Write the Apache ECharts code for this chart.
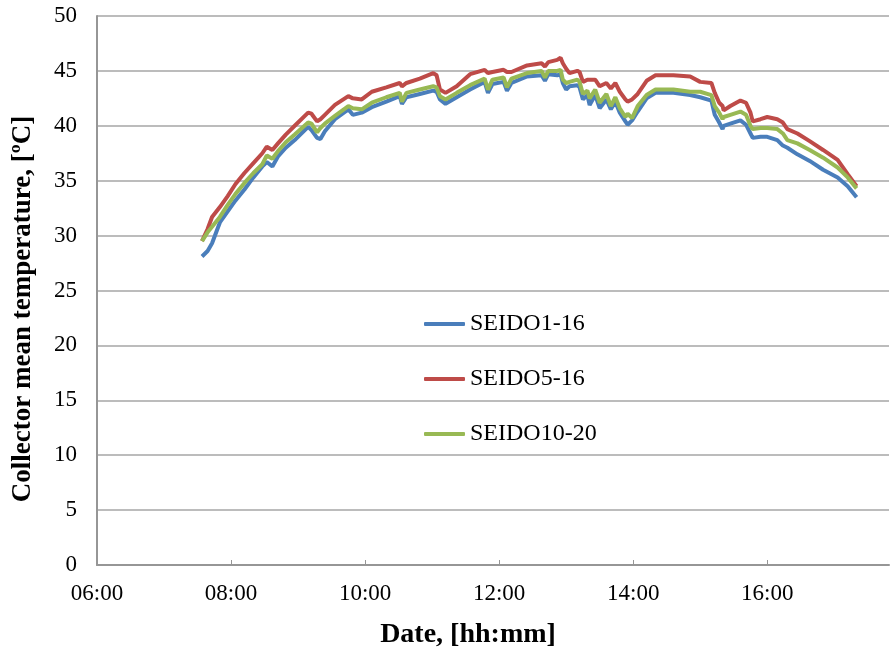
<!DOCTYPE html>
<html>
<head>
<meta charset="utf-8">
<script src="https://cdn.jsdelivr.net/npm/echarts@6/dist/echarts.min.js"></script>
<style>
  html, body { margin: 0; padding: 0; background: #fff; }
  #chart { width: 891px; height: 654px; }
</style>
</head>
<body>
<div id="chart"></div>
<script>
// sample times (hh:mm)
const times = [
  '07:34', '07:39', '07:43', '07:50', '07:57', '08:04', '08:12', '08:20', '08:28', '08:32',
  '08:37', '08:42', '08:49', '08:57', '09:09', '09:12', '09:17', '09:20', '09:24', '09:33',
  '09:45', '09:49', '09:57', '10:06', '10:19', '10:31', '10:33', '10:37', '10:49', '11:01',
  '11:04', '11:07', '11:12', '11:22', '11:34', '11:47', '11:50', '11:54', '12:04', '12:07',
  '12:11', '12:25', '12:38', '12:41', '12:44', '12:52', '12:55', '12:57', '13:00', '13:03',
  '13:10', '13:12', '13:15', '13:19', '13:21', '13:26', '13:30', '13:36', '13:40', '13:44',
  '13:48', '13:53', '13:55', '13:59', '14:04', '14:12', '14:20', '14:36', '14:51', '15:00',
  '15:10', '15:13', '15:17', '15:20', '15:21', '15:27', '15:36', '15:41', '15:45', '15:47',
  '15:54', '16:00', '16:09', '16:14', '16:18', '16:27', '16:38', '16:50', '17:03', '17:12',
  '17:20'
];

const seido1_16 = [
  28.1, 28.6, 29.3, 31.2, 32.2, 33.2, 34.2, 35.3, 36.3, 36.7,
  36.3, 37.2, 38.0, 38.7, 39.9, 39.6, 38.9, 38.8, 39.5, 40.6,
  41.5, 41.0, 41.2, 41.7, 42.2, 42.7, 42.0, 42.6, 42.9, 43.2,
  43.1, 42.4, 42.0, 42.6, 43.3, 44.0, 43.0, 43.8, 44.0, 43.2,
  43.9, 44.5, 44.6, 44.1, 44.7, 44.6, 44.7, 43.9, 43.3, 43.6,
  43.7, 43.5, 42.4, 42.8, 41.9, 42.8, 41.6, 42.4, 41.5, 42.2,
  41.2, 40.4, 40.1, 40.5, 41.3, 42.5, 43.0, 43.0, 42.8, 42.6,
  42.3, 41.0, 40.3, 39.7, 40.0, 40.2, 40.5, 40.1, 39.3, 38.9,
  39.0, 39.0, 38.7, 38.2, 38.0, 37.4, 36.8, 36.0, 35.3, 34.5,
  33.5
];

const seido5_16 = [
  29.5, 30.6, 31.7, 32.6, 33.6, 34.7, 35.7, 36.6, 37.5, 38.1,
  37.8, 38.4, 39.2, 40.0, 41.2, 41.1, 40.4, 40.6, 41.0, 41.9,
  42.7, 42.5, 42.4, 43.1, 43.5, 43.9, 43.6, 43.9, 44.3, 44.8,
  44.6, 43.3, 43.0, 43.6, 44.7, 45.1, 44.8, 44.9, 45.1, 44.9,
  44.9, 45.5, 45.7, 45.4, 45.8, 46.0, 46.2, 45.7, 45.2, 44.8,
  45.0, 44.9, 44.0, 44.2, 44.2, 44.2, 43.6, 43.9, 43.4, 43.9,
  43.1, 42.4, 42.2, 42.4, 42.9, 44.1, 44.6, 44.6, 44.5, 44.0,
  43.9, 43.0, 42.1, 41.8, 41.4, 41.8, 42.3, 42.1, 41.2, 40.4,
  40.6, 40.8, 40.6, 40.3, 39.7, 39.3, 38.6, 37.8, 36.9, 35.6,
  34.5
];

const seido10_20 = [
  29.5, 30.3, 30.8, 31.7, 32.8, 33.8, 34.8, 35.7, 36.5, 37.3,
  37.0, 37.7, 38.5, 39.2, 40.3, 40.2, 39.4, 39.8, 40.2, 40.9,
  41.8, 41.6, 41.5, 42.1, 42.6, 43.0, 42.2, 43.0, 43.3, 43.6,
  43.5, 42.7, 42.4, 43.0, 43.7, 44.3, 43.3, 44.2, 44.4, 43.5,
  44.3, 44.8, 45.0, 44.4, 45.0, 45.0, 45.1, 44.2, 43.9, 44.0,
  44.2, 44.0, 42.9, 43.2, 42.5, 43.3, 42.1, 42.9, 41.8, 42.6,
  41.6, 40.8, 41.1, 40.7, 41.8, 42.8, 43.3, 43.3, 43.1, 43.1,
  42.8, 41.8, 41.2, 40.6, 40.8, 41.0, 41.3, 41.0, 40.0, 39.7,
  39.8, 39.8, 39.7, 39.3, 38.7, 38.4, 37.8, 37.1, 36.2, 35.3,
  34.3
];

const seriesNames = ['SEIDO1-16', 'SEIDO5-16', 'SEIDO10-20'];
const xTickValues = [360, 480, 600, 720, 840, 960];   // 06:00 .. 16:00 in minutes

const toMin = (s) => {
  const [h, m] = s.split(':').map(Number);
  return h * 60 + m;
};
const toLabel = (v) => {
  const h = Math.floor(v / 60), m = Math.round(v % 60);
  return String(h).padStart(2, '0') + ':' + String(m).padStart(2, '0');
};
const pairs = (vals) => times.map((t, i) => [toMin(t), vals[i]]);

const serif = '"Liberation Serif", "Times New Roman", serif';
const gray = '#969696';

const chart = echarts.init(document.getElementById('chart'));

const lineSeries = (name, vals, color) => ({
  name,
  type: 'line',
  data: pairs(vals),
  showSymbol: false,
  symbol: 'none',
  lineStyle: { color, width: 4 },
  itemStyle: { color },
  animation: false
});

chart.setOption({
  animation: false,
  grid: { left: 97, right: 2, top: 16, bottom: 89 },
  legend: {
    orient: 'vertical',
    left: 419,
    top: 307,
    icon: 'roundRect',
    itemWidth: 41,
    itemHeight: 4,
    itemGap: 31,
    textStyle: { fontFamily: serif, fontSize: 24, color: '#000', lineHeight: 24 },
    data: seriesNames
  },
  xAxis: {
    type: 'value',
    min: 360,
    max: 1069,
    interval: 120,
    axisLine: { lineStyle: { color: gray, width: 2 } },
    axisTick: {
      show: true, inside: true, length: 5,
      customValues: xTickValues.slice(1),
      lineStyle: { color: gray, width: 1 }
    },
    axisLabel: {
      customValues: xTickValues,
      formatter: toLabel,
      fontFamily: serif, fontSize: 23, color: '#000', margin: 17
    },
    splitLine: { show: false }
  },
  yAxis: {
    type: 'value',
    min: 0,
    max: 50,
    interval: 5,
    axisLine: { show: true, lineStyle: { color: gray, width: 2 } },
    axisTick: { show: false },
    axisLabel: { fontFamily: serif, fontSize: 23, color: '#000', margin: 20 },
    splitLine: { lineStyle: { color: '#a6a6a6', width: 1.5 } }
  },
  graphic: [
    {
      type: 'text',
      x: 468, y: 635,
      style: {
        text: 'Date, [hh:mm]', font: 'bold 28px ' + serif, fill: '#000',
        align: 'center', verticalAlign: 'middle'
      }
    },
    {
      type: 'text',
      x: 23, y: 309,
      rotation: Math.PI / 2,
      style: {
        text: 'Collector mean temperature, [ºC]',
        font: 'bold 27px ' + serif, fill: '#000',
        align: 'center', verticalAlign: 'middle'
      }
    }
  ],
  series: [
    lineSeries(seriesNames[0], seido1_16, '#4a7ebb'),
    lineSeries(seriesNames[1], seido5_16, '#be4b48'),
    lineSeries(seriesNames[2], seido10_20, '#98b954')
  ]
});
</script>
</body>
</html>
